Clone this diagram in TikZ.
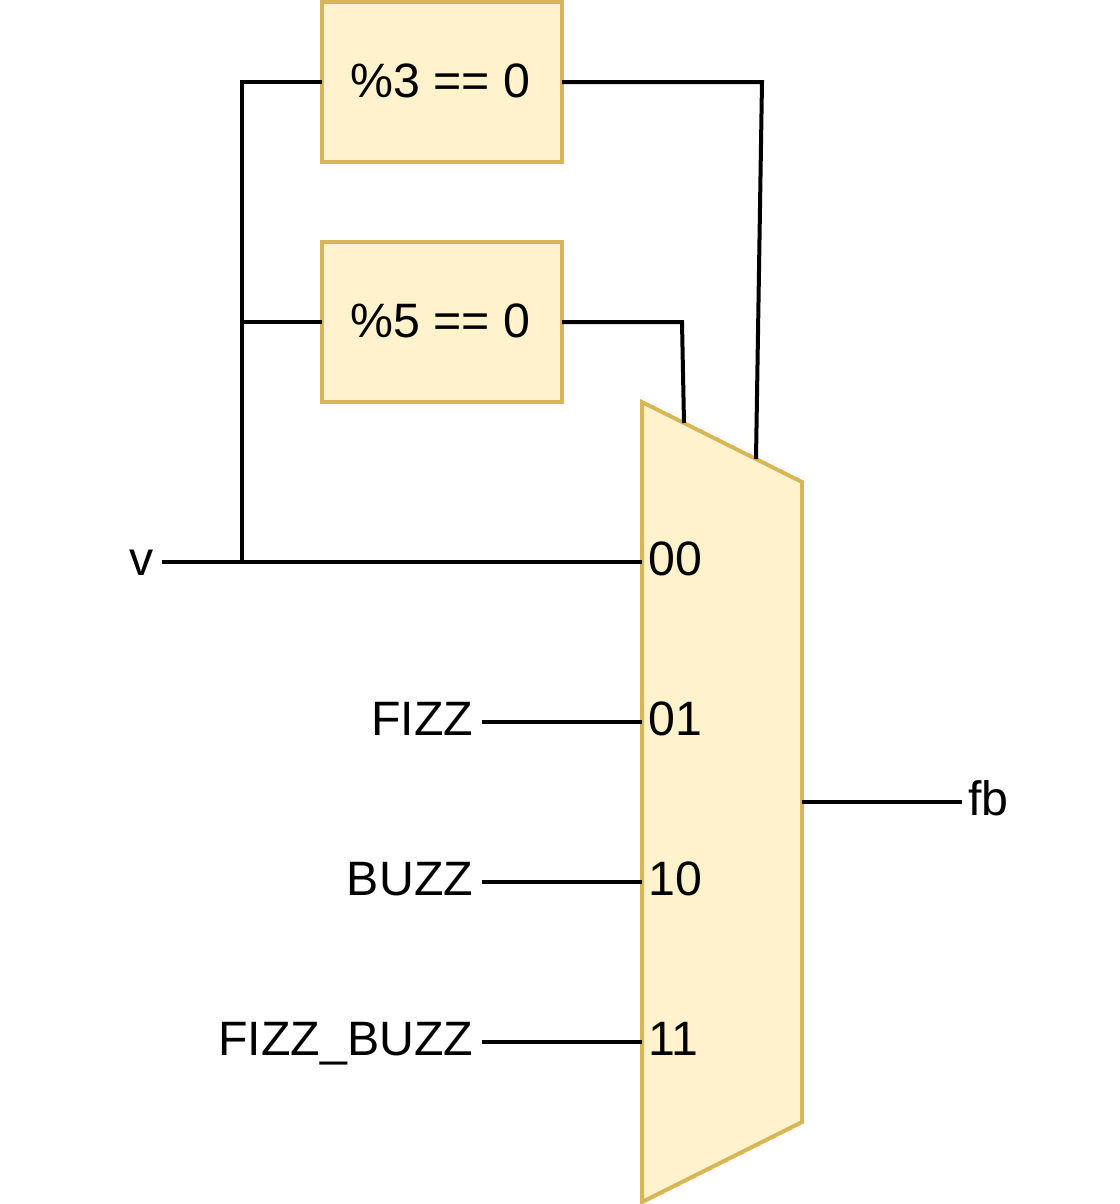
\documentclass[tikz,border=0pt]{standalone}
\usepackage{fontspec}
\setmainfont{Liberation Sans}
\begin{document}
\begin{tikzpicture}[
  every node/.style={inner sep=0pt,outer sep=0pt},
  wire/.style={line width=3pt,draw=black,line cap=butt,line join=miter},
  box/.style={draw=boxedge,fill=boxfill,line width=3pt,minimum width=180pt,minimum height=120pt},
  lab/.style={font=\fontsize{36.2}{36}\selectfont,text=black}]
\definecolor{boxfill}{HTML}{FFF2CC}
\definecolor{boxedge}{HTML}{D6B656}
\begin{scope}[x=0.75pt,y=-0.75pt]
\useasboundingbox (0,0) rectangle (1120,1204);
\node[box] (a) at (442,82) {};
\node[lab] (at) at (440.5,80.5) {\%3 == 0};
\node[box] (b) at (442,322) {};
\node[lab] (bt) at (440.5,320.5) {\%5 == 0};
\draw[draw=boxedge,fill=boxfill,line width=3pt] (642,402) -- (802,482) -- (802,1122) -- (642,1202) -- cycle;
\coordinate (j0) at (242,562);
\coordinate (j1) at (242,322);
\coordinate (jt) at (242,82);
\coordinate (m00) at (642,562);
\coordinate (m01) at (642,722);
\coordinate (m10) at (642,882);
\coordinate (m11) at (642,1042);
\coordinate (mo) at (802,802);
\coordinate (m5) at (684,423);
\coordinate (m3) at (756,459);
\coordinate (c5) at (682,322);
\coordinate (c3) at (762,82);
\coordinate (vend) at (162,562);
\coordinate (f1) at (482,722);
\coordinate (f2) at (482,882);
\coordinate (f3) at (482,1042);
\coordinate (fo) at (962,802);
\draw[wire] (vend) -- (m00);
\draw[wire] (j0) -- (jt) -- (a.west);
\draw[wire] (j1) -- (b.west);
\draw[wire] (a.east) -- (c3) -- (m3);
\draw[wire] (b.east) -- (c5) -- (m5);
\draw[wire] (f1) -- (m01);
\draw[wire] (f2) -- (m10);
\draw[wire] (f3) -- (m11);
\draw[wire] (mo) -- (fo);
\node[lab,anchor=base east] (v) at (153.5,575.5) {v};
\node[lab,anchor=base east] (fizz) at (473,735.5) {FIZZ};
\node[lab,anchor=base east] (buzz) at (473,895.5) {BUZZ};
\node[lab,anchor=base east] (fb2) at (473,1055.5) {FIZZ\_BUZZ};
\node[lab,anchor=base west] (n00) at (648.5,575.5) {00};
\node[lab,anchor=base west] (n01) at (648.5,735.5) {01};
\node[lab,anchor=base west] (n10) at (648.5,895.5) {10};
\node[lab,anchor=base west] (n11) at (648.5,1055.5) {11};
\node[lab,anchor=base west] (fb) at (968,815.5) {fb};
\end{scope}
\end{tikzpicture}
\end{document}
